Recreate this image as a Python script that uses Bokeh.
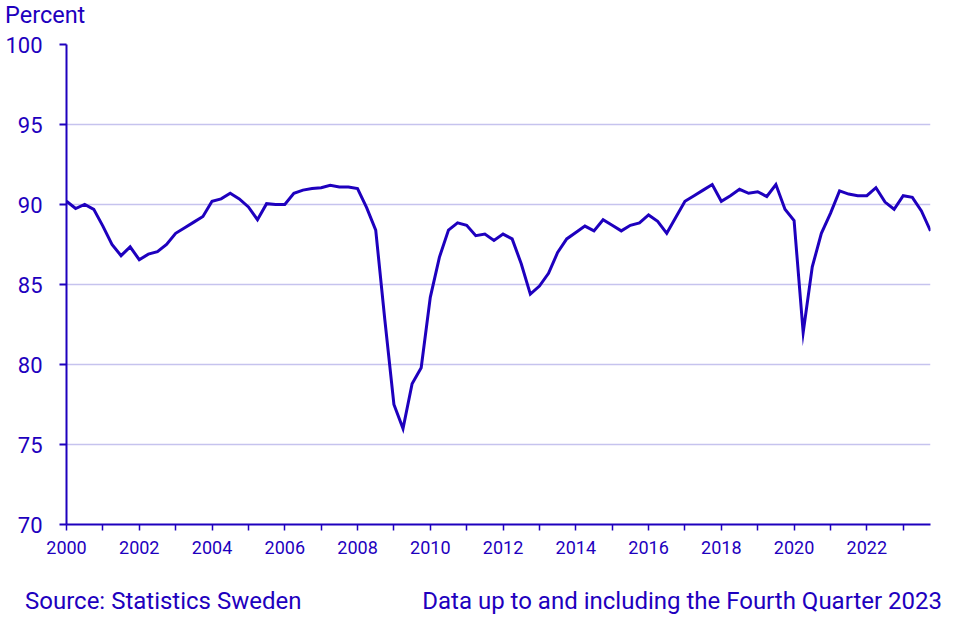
from bokeh.plotting import figure
from bokeh.models import Range1d, FixedTicker, Div
from bokeh.layouts import column
from bokeh.embed import file_html
from bokeh.resources import INLINE

# Quarterly series, 2000 Q1 .. 2023 Q4 (percent)
start_year = 2000
end_year = 2023
values = [
    90.2, 89.75, 90.0, 89.7, 88.65, 87.5, 86.8, 87.35,      # 2000-2001
    86.55, 86.9, 87.05, 87.5, 88.2, 88.55, 88.9, 89.25,     # 2002-2003
    90.2, 90.35, 90.7, 90.35, 89.85, 89.05, 90.05, 90.0,    # 2004-2005
    90.0, 90.7, 90.9, 91.0, 91.05, 91.2, 91.1, 91.1,        # 2006-2007
    91.0, 89.8, 88.4, 82.8, 77.5, 76.0, 78.8, 79.8,         # 2008-2009
    84.2, 86.7, 88.4, 88.85, 88.7, 88.05, 88.15, 87.75,     # 2010-2011
    88.15, 87.85, 86.3, 84.4, 84.9, 85.7, 87.0, 87.85,      # 2012-2013
    88.25, 88.65, 88.35, 89.05, 88.7, 88.35, 88.7, 88.85,   # 2014-2015
    89.35, 88.95, 88.2, 89.2, 90.2, 90.55, 90.9, 91.25,     # 2016-2017
    90.2, 90.55, 90.95, 90.7, 90.8, 90.5, 91.25, 89.7,      # 2018-2019
    89.0, 82.0, 86.1, 88.2, 89.45, 90.85, 90.65, 90.55,     # 2020-2021
    90.55, 91.05, 90.15, 89.7, 90.55, 90.45, 89.6, 88.35,   # 2022-2023
]
quarters = [y + q / 4 for y in range(start_year, end_year + 1) for q in range(4)]

y_ticks = [70, 75, 80, 85, 90, 95, 100]
x_ticks = list(range(start_year, end_year + 1))
x_labels = {yr: (str(yr) if yr % 2 == 0 else "") for yr in x_ticks}

y_label = "Percent"
source_text = "Source: Statistics Sweden"
note_text = "Data up to and including the Fourth Quarter 2023"

COL = "#1e00be"
GRID = "#c6c3ee"
FONT = "Roboto"
W = 950

header_html = (
    f'<div style="position:relative;width:{W}px;height:30px;font-family:Roboto;'
    f'font-size:23.5px;line-height:23.5px;color:{COL};white-space:nowrap;">'
    f'<span style="position:absolute;left:5px;top:4px;">{y_label}</span>'
    '</div>'
)
header = Div(text=header_html, width=W, height=30, margin=0)

p = figure(width=W, height=540, output_backend="svg", toolbar_location=None,
           x_range=Range1d(2000, 2023.75), y_range=Range1d(70, 100),
           min_border_left=66, min_border_right=W - 930, min_border_top=14, min_border_bottom=46)
p.outline_line_color = None
p.background_fill_color = "white"
p.border_fill_color = "white"

p.line(quarters, values, line_color=COL, line_width=3, line_join="miter")

p.xgrid.grid_line_color = None
p.ygrid.grid_line_color = GRID
p.ygrid.grid_line_width = 1.5
p.ygrid.ticker = FixedTicker(ticks=y_ticks)

ya = p.yaxis[0]
ya.ticker = FixedTicker(ticks=y_ticks)
ya.axis_line_color = COL
ya.axis_line_width = 2
ya.major_tick_line_color = COL
ya.major_tick_line_width = 2
ya.major_tick_out = 7
ya.major_tick_in = 0
ya.minor_tick_line_color = None
ya.major_label_text_color = COL
ya.major_label_text_font = FONT
ya.major_label_text_font_size = "22px"
ya.major_label_standoff = 17

xa = p.xaxis[0]
xa.ticker = FixedTicker(ticks=x_ticks)
xa.major_label_overrides = x_labels
xa.axis_line_color = COL
xa.axis_line_width = 2
xa.major_tick_line_color = COL
xa.major_tick_line_width = 1.5
xa.major_tick_out = 6
xa.major_tick_in = 0
xa.minor_tick_line_color = None
xa.major_label_text_color = COL
xa.major_label_text_font = FONT
xa.major_label_text_font_size = "18px"
xa.major_label_standoff = 10

footer_html = (
    f'<div style="position:relative;width:{W}px;height:54px;font-family:Roboto;'
    f'font-size:24px;line-height:24px;color:{COL};white-space:nowrap;">'
    f'<span style="position:absolute;left:25px;top:19px;">{source_text}</span>'
    f'<span style="position:absolute;right:8px;top:19px;">{note_text}</span>'
    '</div>'
)
footer = Div(text=footer_html, width=W, height=54, margin=0)

layout = column(header, p, footer, spacing=0)
open("out.html", "w").write(file_html(layout, INLINE))
